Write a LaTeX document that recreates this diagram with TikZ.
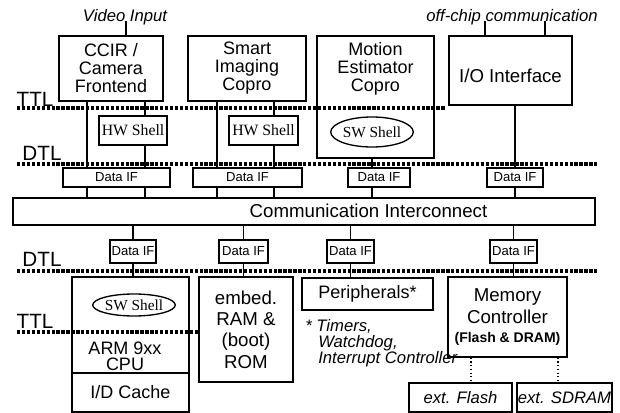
\documentclass[tikz,border=0pt]{standalone}
\usepackage{fontspec}
\setmainfont{Liberation Sans}
\newfontfamily\serifshell{Liberation Serif}
\usetikzlibrary{shapes.geometric}
\begin{document}
\begin{tikzpicture}[x=0.75pt,y=-0.75pt,
 box/.style={draw, line width=1.1pt, inner sep=0pt, align=center, font=\fontsize{13.5}{13.5}\selectfont},
 plain/.style={inner sep=0pt, align=center, font=\fontsize{13.5}{13.5}\selectfont},
 difbox/.style={draw, line width=0.8pt, inner sep=0pt, font=\fontsize{9.8}{10}\selectfont},
 shellbox/.style={draw, line width=1pt, inner sep=0pt, font=\serifshell\fontsize{11.8}{12}\selectfont},
 shellell/.style={ellipse, draw, line width=1pt, inner sep=0pt, font=\serifshell\fontsize{11.5}{12}\selectfont},
 extbox/.style={draw, line width=1.5pt, inner sep=0pt, font=\itshape\fontsize{12.5}{14}\selectfont},
 conn/.style={line width=0.8pt},
 extconn/.style={line width=0.8pt, dotted},
 layer/.style={line width=2.4pt, dash pattern=on 2.5pt off 1.2pt},
 layerlabel/.style={font=\fontsize{15.5}{16}\selectfont, inner sep=0pt},
 note/.style={font=\itshape\fontsize{12.5}{14}\selectfont, inner sep=0pt}
]
\useasboundingbox (0,0) rectangle (620,413);

% top texts
\node[note] (vid) at (125,17) {Video Input};
\node[note] (offchip) at (512,17) {off-chip communication};

% top row boxes
\node[box, minimum width=78pt, minimum height=48.75pt] (ccir) at (111,68.5) {CCIR /\\Camera\\Frontend};
\node[box, minimum width=88.5pt, minimum height=48.75pt] (smart) at (247,68.5) {Smart\\Imaging\\Copro};
\node[box, minimum width=87.75pt, minimum height=91.5pt] (motion) at (375.5,97) {};
\node[plain] (motiontxt) at (375.5,69) {Motion\\Estimator\\Copro};
\node[box, minimum width=92.25pt, minimum height=51.75pt, font=\fontsize{14}{14}\selectfont] (io) at (510.5,70.5) {};
\node[plain, font=\fontsize{14}{14}\selectfont] (iotxt) at (510.5,76) {I/O Interface};

% shells
\node[shellbox, minimum width=51pt, minimum height=21.75pt] (hw1) at (133,130.5) {HW Shell};
\node[shellbox, minimum width=51.75pt, minimum height=21.75pt] (hw2) at (263.5,130.5) {HW Shell};
\node[shellell, minimum width=51pt, minimum height=22.5pt] (sw1) at (372,132) {SW Shell};

% upper data IFs
\node[difbox, minimum width=80.25pt, minimum height=14.25pt] (dif1) at (116.5,177.5) {Data IF};
\node[difbox, minimum width=81.75pt, minimum height=14.25pt] (dif2) at (247.5,177.5) {Data IF};
\node[difbox, minimum width=46.5pt, minimum height=14.25pt] (dif3) at (379,177.5) {Data IF};
\node[difbox, minimum width=42pt, minimum height=14.25pt] (dif4) at (515,177.5) {Data IF};

% interconnect
\node[box, minimum width=436.5pt, minimum height=20.25pt] (comm) at (304,211.5) {};
\node[plain, font=\fontsize{14}{14}\selectfont] (commtxt) at (368.5,211) {Communication Interconnect};

% lower data IFs
\node[difbox, minimum width=34.5pt, minimum height=17.25pt] (dif5) at (133,251.5) {Data IF};
\node[difbox, minimum width=36.75pt, minimum height=17.25pt] (dif6) at (243.5,251.5) {Data IF};
\node[difbox, minimum width=35.25pt, minimum height=17.25pt] (dif7) at (350.5,251.5) {Data IF};
\node[difbox, minimum width=35.25pt, minimum height=17.25pt] (dif8) at (513.5,251.5) {Data IF};

% lower boxes
\node[box, minimum width=87.75pt, minimum height=72pt] (arm) at (130.5,325) {};
\node[shellell, minimum width=56.25pt, minimum height=16.5pt] (sw2) at (134,305) {SW Shell};
\node[plain, font=\fontsize{13.5}{12}\selectfont] (armtxt) at (125,356) {ARM 9xx\\CPU};
\node[box, minimum width=87.75pt, minimum height=29.25pt] (cache) at (130.5,392.5) {I/D Cache};
\node[box, minimum width=70.5pt, minimum height=78.75pt, font=\fontsize{14}{16}\selectfont] (embed) at (246,329.5) {embed.\\RAM \&\\(boot)\\ROM};
\node[box, minimum width=98.25pt, minimum height=24pt] (periph) at (367.5,294) {Peripherals*};
\node[box, minimum width=89.25pt, minimum height=60pt, font=\fontsize{14}{17}\selectfont] (mem) at (507.5,317) {Memory\\Controller\\[-3pt]{\bfseries\fontsize{10.5}{12}\selectfont (Flash \& DRAM)}};

\node[note, anchor=west] (fn1) at (305,327) {* Timers,};
\node[note, anchor=west] (fn2) at (318,343) {Watchdog,};
\node[note, anchor=west] (fn3) at (318,359) {Interrupt Controller};

\node[extbox, minimum width=77.25pt, minimum height=21.75pt] (flash) at (460.5,397.5) {ext. Flash};
\node[extbox, minimum width=71.25pt, minimum height=21.75pt] (sdram) at (564.5,397.5) {ext. SDRAM};

% connectors
\draw[conn] (vid.base -| 126,0) -- (ccir.north -| 126,0);
\draw[conn] (offchip.base -| 485,0) -- (io.north -| 485,0);
\draw[conn] (offchip.base -| 545,0) -- (io.north -| 545,0);

\draw[conn] (ccir.south -| 87,0) -- (dif1.north -| 87,0);
\draw[conn] (ccir.south -| 145,0) -- (hw1.north -| 145,0);
\draw[conn] (hw1.south -| 145,0) -- (dif1.north -| 145,0);
\draw[conn] (dif1.south -| 87,0) -- (comm.north -| 87,0);
\draw[conn] (dif1.south -| 145,0) -- (comm.north -| 145,0);

\draw[conn] (smart.south -| 217,0) -- (dif2.north -| 217,0);
\draw[conn] (smart.south -| 274,0) -- (hw2.north -| 274,0);
\draw[conn] (hw2.south -| 274,0) -- (dif2.north -| 274,0);
\draw[conn] (dif2.south -| 217,0) -- (comm.north -| 217,0);
\draw[conn] (dif2.south -| 274,0) -- (comm.north -| 274,0);

\draw[conn] (motion.south -| 372,0) -- (dif3.north -| 372,0);
\draw[conn] (dif3.south -| 372,0) -- (comm.north -| 372,0);

\draw[conn] (io.south -| 515,0) -- (dif4.north -| 515,0);
\draw[conn] (dif4.south -| 515,0) -- (comm.north -| 515,0);

\draw[conn] (comm.south -| dif5) -- (dif5.north);
\draw[conn] (dif5.south) -- (arm.north -| dif5);
\draw[conn] (comm.south -| dif6) -- (dif6.north);
\draw[conn] (dif6.south) -- (embed.north -| dif6);
\draw[conn] (comm.south -| dif7) -- (dif7.north);
\draw[conn] (dif7.south) -- (periph.north -| dif7);
\draw[conn] (comm.south -| dif8) -- (dif8.north);
\draw[conn] (dif8.south) -- (mem.north -| dif8);

\draw[extconn] (mem.south -| 471,0) -- (flash.north -| 471,0);
\draw[extconn] (mem.south -| 558,0) -- (sdram.north -| 558,0);

% layer lines and labels
\node[layerlabel] (ttl1) at (35,99) {TTL};
\node[layerlabel] (dtl1) at (42,153) {DTL};
\node[layerlabel] (dtl2) at (42,259) {DTL};
\node[layerlabel] (ttl2) at (35,321) {TTL};
\coordinate (l1a) at (17,108); \coordinate (l1b) at (445,108);
\coordinate (l2a) at (17,164); \coordinate (l2b) at (597,164);
\coordinate (l3a) at (17,271); \coordinate (l3b) at (597,271);
\coordinate (l4a) at (17,332); \coordinate (l4b) at (199,332);
\draw[layer] (l1a) -- (l1b);
\draw[layer] (l2a) -- (l2b);
\draw[layer] (l3a) -- (l3b);
\draw[layer] (l4a) -- (l4b);
\end{tikzpicture}
\end{document}
